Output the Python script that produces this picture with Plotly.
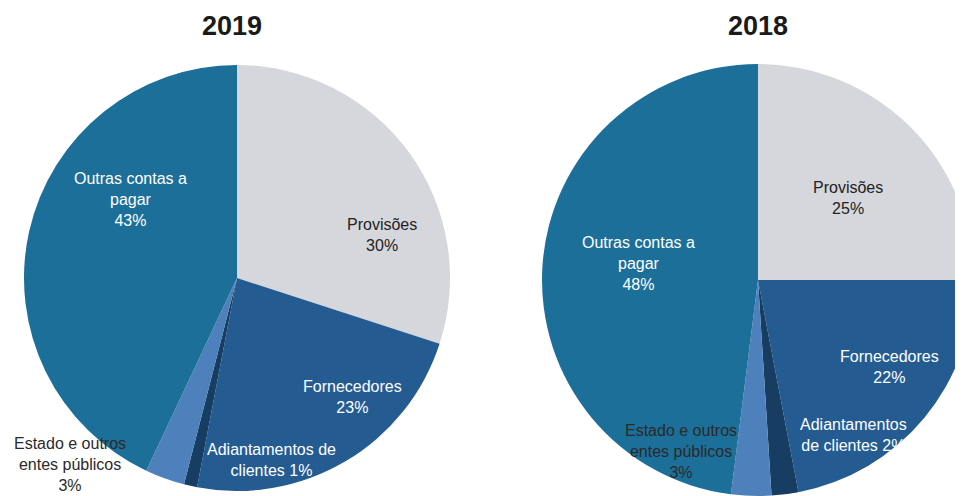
import plotly.graph_objects as go

# ---- data ----
categories = ["Provisões", "Fornecedores", "Adiantamentos de clientes",
              "Estado e outros entes públicos", "Outras contas a pagar"]
values_2019 = [30, 23, 1, 3, 43]
values_2018 = [25, 22, 2, 3, 48]
years = ["2019", "2018"]

# ---- styling ----
colors = ["#d5d7dd", "#245c92", "#173d62", "#4e81bb", "#1c6f98"]
text_colors = ["#222222", "#ffffff", "#ffffff", "#2a2a2a", "#ffffff"]

# page offset (body margin) and figure canvas; the window crops the right side
OFF = 8
W, H = 990, 500

# label line-wrapping per chart (display only)
wrap_2019 = ["Provisões", "Fornecedores", "Adiantamentos de<br>clientes",
             "Estado e outros<br>entes públicos", "Outras contas a<br>pagar"]
wrap_2018 = ["Provisões", "Fornecedores", "Adiantamentos<br>de clientes",
             "Estado e outros<br>entes públicos", "Outras contas a<br>pagar"]
pct_sep_2019 = ["<br>", "<br>", " ", "<br>", "<br>"]
pct_sep_2018 = ["<br>", "<br>", " ", "<br>", "<br>"]

# label centre positions in window pixels (x, y from top)
pos_2019 = [(382, 235), (352, 397), (271, 460), (70, 464), (130, 199)]
pos_2018 = [(848, 198), (889, 367), (853, 435), (681, 451), (638, 263)]
title_pos = {"2019": (232, 26), "2018": (758, 26)}

# pie geometry in window pixels: centre x, centre y (from top), radius
geo = {"2019": (237, 278, 213), "2018": (758, 280, 216)}


def fx(px):
    return (px - OFF) / W


def fy(py):
    return 1 - (py - OFF) / H


fig = go.Figure()
for yr, vals in zip(years, [values_2019, values_2018]):
    cx, cy, r = geo[yr]
    fig.add_trace(go.Pie(
        labels=categories, values=vals, sort=False, direction="clockwise",
        rotation=0, marker=dict(colors=colors, line=dict(width=0)),
        textinfo="none", hoverinfo="label+percent", showlegend=False,
        domain=dict(x=[fx(cx - r), fx(cx + r)],
                    y=[fy(cy + r), fy(cy - r)]),
    ))

FONT = "Liberation Sans, Arial, sans-serif"
annotations = []
for yr, vals, wraps, seps, poss in [
        ("2019", values_2019, wrap_2019, pct_sep_2019, pos_2019),
        ("2018", values_2018, wrap_2018, pct_sep_2018, pos_2018)]:
    tx, ty = title_pos[yr]
    annotations.append(dict(
        text="<b>%s</b>" % yr, x=fx(tx), y=fy(ty),
        xref="paper", yref="paper", showarrow=False, xanchor="center", yanchor="middle",
        font=dict(family=FONT, size=27, color="#1a1a1a")))
    for i, (w, v) in enumerate(zip(wraps, vals)):
        px, py = poss[i]
        annotations.append(dict(
            text="%s%s%d%%" % (w, seps[i], v), x=fx(px), y=fy(py),
            xref="paper", yref="paper", showarrow=False,
            xanchor="center", yanchor="middle", align="center",
            font=dict(family=FONT, size=16, color=text_colors[i])))

fig.update_layout(
    width=W, height=H, margin=dict(l=0, r=0, t=0, b=0),
    paper_bgcolor="white", plot_bgcolor="white",
    annotations=annotations,
)

fig.write_html("out.html")
